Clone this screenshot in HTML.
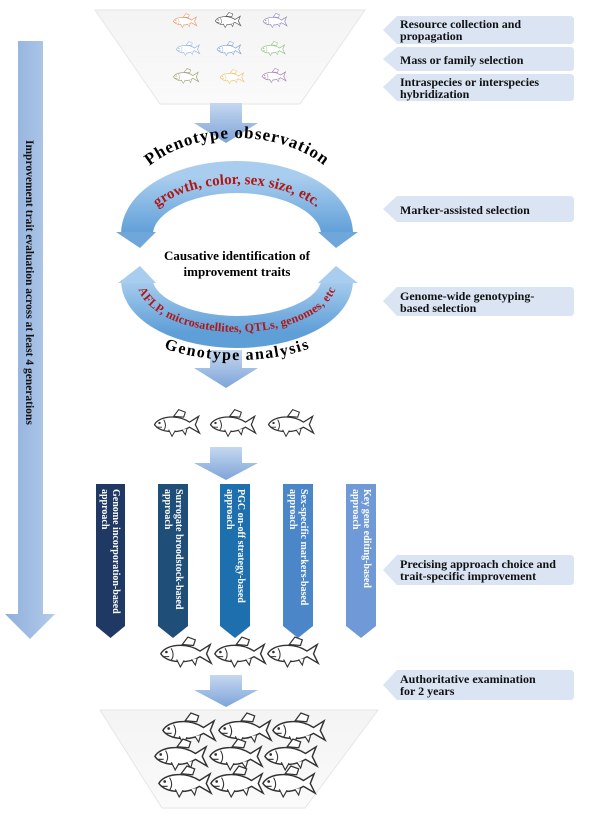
<!DOCTYPE html>
<html><head><meta charset="utf-8"><style>
body{margin:0;background:#fff;}
svg{display:block;font-family:"Liberation Serif",serif;}
</style></head><body>
<svg width="600" height="817" viewBox="0 0 600 817" xmlns="http://www.w3.org/2000/svg">
<defs>
<linearGradient id="ga" x1="0" x2="1" y1="0" y2="0"><stop offset="0" stop-color="#8eaedc"/><stop offset="1" stop-color="#b4cbea"/></linearGradient>
<linearGradient id="gd" x1="0" x2="0" y1="0" y2="1"><stop offset="0" stop-color="#c5d8f0"/><stop offset="1" stop-color="#7ea4d8"/></linearGradient>
<linearGradient id="garc" x1="0" x2="0" y1="0" y2="1"><stop offset="0" stop-color="#a9cdee"/><stop offset="1" stop-color="#5f9fd8"/></linearGradient>
<linearGradient id="gbowl" x1="0" x2="0" y1="0" y2="1"><stop offset="0" stop-color="#f4f4f4"/><stop offset="1" stop-color="#fafafa"/></linearGradient>
<symbol id="fish" viewBox="0 0 60 34">
<path d="M26 9 L32 1 L40 4 L38 10 Z" fill="#fff" stroke="currentColor" stroke-width="1.3"/>
<path d="M3 19 C8 9 30 6 45 16 L56 9 L52 19 L57 29 L45 22 C32 30 10 29 3 19 Z" fill="#fff" stroke="currentColor" stroke-width="1.5"/>
<path d="M20 25 L24 33 L28 26 M36 25 L40 31 L42 24" fill="#fff" stroke="currentColor" stroke-width="1.2"/>
<circle cx="9" cy="17" r="1.4" fill="currentColor"/>
<path d="M14 13 C17 18 17 22 14 26 M5 22 L12 22" fill="none" stroke="currentColor" stroke-width="1.1"/>
</symbol>
</defs>

<!-- top bowl -->
<path d="M95 10 L365 10 L300 104 L160 104 Z" fill="url(#gbowl)" stroke="#e6e6e6"/>
<g>
<use href="#fish" x="172" y="13" width="26" height="15" style="color:#e39a6b"/>
<use href="#fish" x="213" y="12" width="30" height="16" style="color:#555"/>
<use href="#fish" x="261" y="13" width="28" height="15" style="color:#8a87b5"/>
<use href="#fish" x="175" y="41" width="26" height="15" style="color:#96b4de"/>
<use href="#fish" x="215" y="41" width="28" height="15" style="color:#7d9fd1"/>
<use href="#fish" x="259" y="41" width="28" height="15" style="color:#8fc07e"/>
<use href="#fish" x="172" y="68" width="28" height="16" style="color:#a2a27d"/>
<use href="#fish" x="218" y="69" width="28" height="15" style="color:#e7c56a"/>
<use href="#fish" x="260" y="68" width="28" height="15" style="color:#a07caa"/>
</g>

<!-- left long arrow -->
<path d="M18 41 L43 41 L43 614 L55 614 L30 639 L5 614 L18 614 Z" fill="url(#ga)"/>
<text transform="translate(26,140) rotate(90)" font-size="11.5" font-weight="bold" fill="#111">Improvement trait evaluation across at least  4 generations</text>

<!-- down arrows -->
<g fill="url(#gd)">
<path d="M210 103 L242 103 L242 123 L258 123 L226 143 L194 123 L210 123 Z"/>
<path d="M210 350 L242 350 L242 368 L258 368 L226 388 L194 368 L210 368 Z"/>
<path d="M210 447 L242 447 L242 463 L258 463 L226 480 L194 463 L210 463 Z"/>
<path d="M210 675 L242 675 L242 690 L258 690 L226 707 L194 690 L210 690 Z"/>
</g>

<!-- upper arc -->
<path d="M137 234 A100 57 0 0 1 337 234" fill="none" stroke="url(#garc)" stroke-width="32"/>
<path d="M116 232 L156 232 L140 248 Z" fill="#6fa7da"/>
<path d="M318 232 L358 232 L336 248 Z" fill="#6fa7da"/>
<path id="tU1" d="M124 214 A113 76 0 0 1 350 214" fill="none"/>
<text font-size="17" font-weight="bold" letter-spacing="1" fill="#000"><textPath href="#tU1" startOffset="50%" text-anchor="middle">Phenotype observation</textPath></text>
<path id="tU2" d="M139 240 A98 56 0 0 1 335 240" fill="none"/>
<text font-size="15" font-weight="bold" fill="#b01818"><textPath href="#tU2" startOffset="50%" text-anchor="middle">growth, color, sex size, etc.</textPath></text>

<text x="237" y="260" text-anchor="middle" font-size="13" font-weight="bold">Causative identification of</text>
<text x="237" y="276" text-anchor="middle" font-size="13" font-weight="bold">improvement traits</text>

<!-- lower arc -->
<path d="M137 280 A100 52 0 0 0 337 280" fill="none" stroke="url(#garc)" stroke-width="32"/>
<path d="M118 283 L156 283 L140 266 Z" fill="#a9cdee"/>
<path d="M318 283 L358 283 L336 266 Z" fill="#a9cdee"/>
<path id="tL1" d="M141 280 A96 48 0 0 0 333 280" fill="none"/>
<text font-size="12" font-weight="bold" fill="#b01818" dy="4"><textPath href="#tL1" startOffset="50%" text-anchor="middle">AFLP, microsatellites, QTLs, genomes, etc</textPath></text>
<path id="tL2" d="M125 296 A112 52 0 0 0 349 296" fill="none"/>
<text font-size="16" font-weight="bold" letter-spacing="1" dy="12"><textPath href="#tL2" startOffset="50%" text-anchor="middle">Genotype analysis</textPath></text>

<!-- middle fish row -->
<use href="#fish" x="152" y="408" width="50" height="30" style="color:#333"/>
<use href="#fish" x="208" y="408" width="50" height="30" style="color:#333"/>
<use href="#fish" x="266" y="408" width="50" height="30" style="color:#333"/>

<!-- vertical banners -->
<g font-size="10" font-weight="bold" fill="#fff">
<path d="M96 484 L125 484 L125 626 L110.5 638 L96 626 Z" fill="#203864"/>
<text transform="translate(113,489) rotate(90)">Genome incorporation-based</text>
<text transform="translate(102,489) rotate(90)">approach</text>
<path d="M158 484 L188 484 L188 626 L173 638 L158 626 Z" fill="#1f4e79"/>
<text transform="translate(176,489) rotate(90)">Surrogate broodstock-based</text>
<text transform="translate(165,489) rotate(90)">approach</text>
<path d="M220 484 L250 484 L250 626 L235 638 L220 626 Z" fill="#1e6fae"/>
<text transform="translate(238,489) rotate(90)">PGC on-off strategy-based</text>
<text transform="translate(227,489) rotate(90)">approach</text>
<path d="M283 484 L313 484 L313 626 L298 638 L283 626 Z" fill="#4a86c8"/>
<text transform="translate(301,489) rotate(90)">Sex-specific markers-based</text>
<text transform="translate(290,489) rotate(90)">approach</text>
<path d="M346 484 L376 484 L376 626 L361 638 L346 626 Z" fill="#7099d8"/>
<text transform="translate(364,489) rotate(90)">Key gene editing-based</text>
<text transform="translate(353,489) rotate(90)">approach</text>
</g>

<use href="#fish" x="158" y="636" width="56" height="32" style="color:#333"/>
<use href="#fish" x="212" y="636" width="56" height="32" style="color:#333"/>
<use href="#fish" x="265" y="636" width="56" height="32" style="color:#333"/>

<!-- bottom bowl -->
<path d="M100 710 L378 710 L305 808 L162 808 Z" fill="url(#gbowl)" stroke="#e6e6e6"/>
<use href="#fish" x="160" y="712" width="58" height="33" style="color:#333"/>
<use href="#fish" x="216" y="712" width="58" height="33" style="color:#333"/>
<use href="#fish" x="270" y="712" width="58" height="33" style="color:#333"/>
<use href="#fish" x="152" y="738" width="58" height="33" style="color:#333"/>
<use href="#fish" x="207" y="738" width="58" height="33" style="color:#333"/>
<use href="#fish" x="262" y="738" width="58" height="33" style="color:#333"/>
<use href="#fish" x="156" y="765" width="58" height="33" style="color:#333"/>
<use href="#fish" x="208" y="765" width="58" height="33" style="color:#333"/>
<use href="#fish" x="260" y="765" width="58" height="33" style="color:#333"/>

<!-- right callouts -->
<g fill="#dae4f3">
<path d="M397 16 L570 16 Q574 16 574 20 L574 40 Q574 44 570 44 L397 44 L383 30 Z"/>
<path d="M397 47 L570 47 Q574 47 574 51 L574 67 Q574 71 570 71 L397 71 L383 59 Z"/>
<path d="M397 74 L570 74 Q574 74 574 78 L574 97 Q574 101 570 101 L397 101 L383 87 Z"/>
<path d="M397 196 L570 196 Q574 196 574 200 L574 218 Q574 222 570 222 L397 222 L383 209 Z"/>
<path d="M397 287 L570 287 Q574 287 574 291 L574 312 Q574 316 570 316 L397 316 L383 301 Z"/>
<path d="M397 555 L570 555 Q574 555 574 559 L574 581 Q574 585 570 585 L397 585 L383 570 Z"/>
<path d="M397 670 L570 670 Q574 670 574 674 L574 696 Q574 700 570 700 L397 700 L383 685 Z"/>
</g>
<g font-size="12" font-weight="bold" fill="#111">
<text x="400" y="28">Resource collection and</text>
<text x="400" y="40">propagation</text>
<text x="400" y="64">Mass or family selection</text>
<text x="400" y="86">Intraspecies or interspecies</text>
<text x="400" y="98">hybridization</text>
<text x="400" y="214">Marker-assisted selection</text>
<text x="400" y="300">Genome-wide genotyping-</text>
<text x="400" y="312">based selection</text>
<text x="400" y="568">Precising approach choice and</text>
<text x="400" y="580">trait-specific improvement</text>
<text x="400" y="683">Authoritative examination</text>
<text x="400" y="695">for 2 years</text>
</g>
</svg>
</body></html>
